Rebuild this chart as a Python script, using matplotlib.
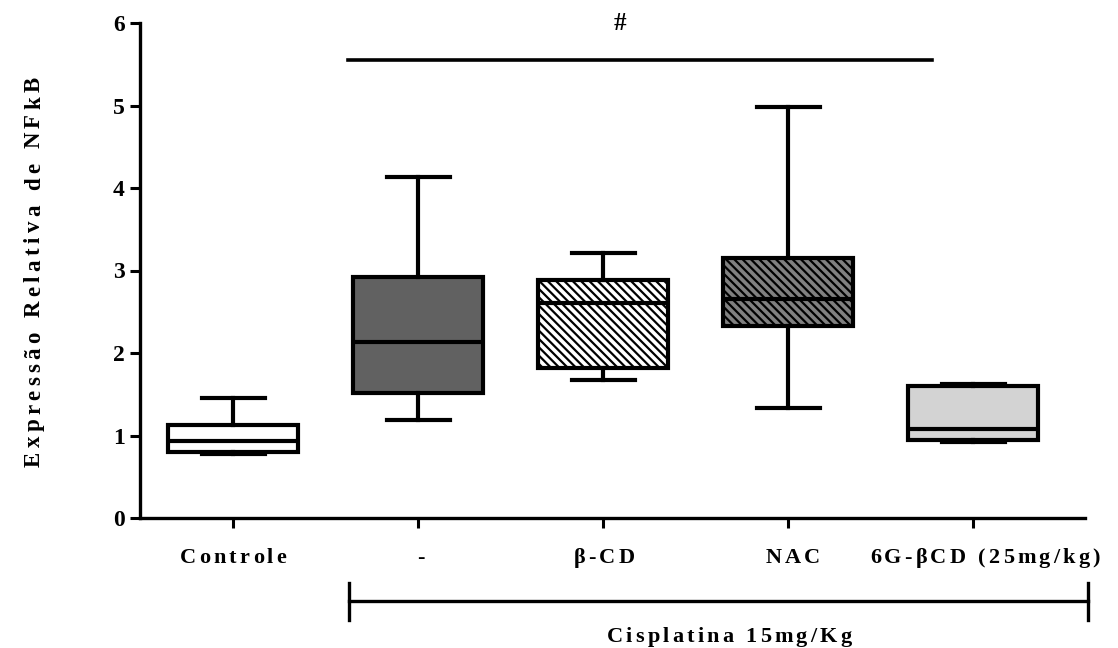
import matplotlib
matplotlib.use("Agg")
import matplotlib.pyplot as plt
import matplotlib.transforms as mtransforms
from matplotlib.font_manager import FontProperties

# ---- data ----
categories = ["Controle", "-", "\u03b2-CD", "NAC", "6G-\u03b2CD (25mg/kg)"]
whisker_low = [0.77, 1.19, 1.67, 1.33, 0.92]
q1 = [0.80, 1.52, 1.82, 2.33, 0.95]
median = [0.93, 2.13, 2.61, 2.65, 1.08]
q3 = [1.13, 2.92, 2.88, 3.15, 1.60]
whisker_high = [1.45, 4.13, 3.21, 4.98, 1.62]
yticks = [0, 1, 2, 3, 4, 5, 6]
sig_y = 5.55
sig_label = "#"
group_label = "Cisplatina 15mg/Kg"
ylabel = "Expressão Relativa de NFkB"

fills = ["white", "#616161", "white", "#808080", "#d3d3d3"]
hatches = [None, None, "\\\\\\\\", "\\\\\\\\", None]

FAM = ["Liberation Serif", "DejaVu Serif"]
plt.rcParams["font.family"] = FAM
plt.rcParams["font.weight"] = "bold"
plt.rcParams["hatch.linewidth"] = 1.6

W, H = 1118, 648
fig = plt.figure(figsize=(W / 100, H / 100), dpi=100)
ax = fig.add_axes([140 / W, 130 / H, 945 / W, 495 / H])
renderer = fig.canvas.get_renderer()


def advances(s, prop):
    ref = renderer.get_text_width_height_descent("xx", prop, ismath=False)[0]
    out = []
    for ch in s:
        w = renderer.get_text_width_height_descent("x" + ch + "x", prop, ismath=False)[0]
        out.append(w - ref)
    return out


def tracked_text(s, cx_px, base_px, size, tracking, vertical=False):
    """Draw s with extra letter spacing; cx_px = centre along text direction,
    base_px = baseline position (pixels from top for horizontal, from left for vertical)."""
    prop = FontProperties(family=FAM, weight="bold", size=size)
    adv = advances(s, prop)
    total = sum(adv) + tracking * (len(s) - 1)
    pos = -total / 2.0
    for ch, a in zip(s, adv):
        if ch != " ":
            if not vertical:
                x = (cx_px + pos) / W
                y = 1 - base_px / H
                fig.text(x, y, ch, fontproperties=prop, ha="left", va="baseline")
            else:
                x = base_px / W
                y = 1 - (cx_px - pos) / H
                fig.text(x, y, ch, fontproperties=prop, rotation=90,
                         rotation_mode="anchor", ha="left", va="baseline")
        pos += a + tracking


stats = []
for i in range(len(categories)):
    stats.append(dict(med=median[i], q1=q1[i], q3=q3[i],
                      whislo=whisker_low[i], whishi=whisker_high[i],
                      fliers=[], label=categories[i]))

lw = 3.0
bp = ax.bxp(stats, positions=range(len(categories)), widths=0.7,
            patch_artist=True, showfliers=False,
            boxprops=dict(linewidth=lw, edgecolor="black"),
            medianprops=dict(linewidth=lw, color="black"),
            whiskerprops=dict(linewidth=lw, color="black"),
            capprops=dict(linewidth=lw, color="black"),
            capwidths=0.34)
for patch, fc, h in zip(bp["boxes"], fills, hatches):
    patch.set_facecolor(fc)
    if h:
        patch.set_hatch(h)

ax.set_xlim(-0.503, 4.605)
ax.set_ylim(0, 6)
ax.set_yticks(yticks)
ax.set_yticklabels([str(t) for t in yticks], fontsize=17, fontweight="bold")
ax.set_xticks(range(len(categories)))
ax.set_xticklabels([])
ax.tick_params(axis="both", direction="out", length=7, width=2.2)
ax.tick_params(axis="y", pad=4)
for side in ["top", "right"]:
    ax.spines[side].set_visible(False)
for side in ["left", "bottom"]:
    ax.spines[side].set_linewidth(2.4)

# category labels (centres in pixels, tracked like the original)
label_cx = [233, 421, 604, 793, 985]
for c, cx in zip(categories, label_cx):
    tracked_text(c, cx, 563, 16, 3.2)

# y label
tracked_text(ylabel, 272, 40, 16.5, 4.4, vertical=True)

# significance line and mark
ax.plot([0.62, 3.78], [sig_y, sig_y], color="black", lw=2.6, clip_on=False)
ax.text(2.09, 6.0, sig_label, ha="center", va="center", fontsize=18, fontweight="bold")

# group bracket
trans = mtransforms.blended_transform_factory(ax.transData, ax.transAxes)
bx0, bx1 = 0.627, 4.62
by = -0.168
ax.plot([bx0, bx1], [by, by], color="black", lw=2.4, transform=trans, clip_on=False)
for bx in (bx0, bx1):
    ax.plot([bx, bx], [-0.131, -0.206], color="black", lw=2.4, transform=trans, clip_on=False)
tracked_text(group_label, 729, 642, 16, 3.2)

fig.savefig("out.png", dpi=100)
